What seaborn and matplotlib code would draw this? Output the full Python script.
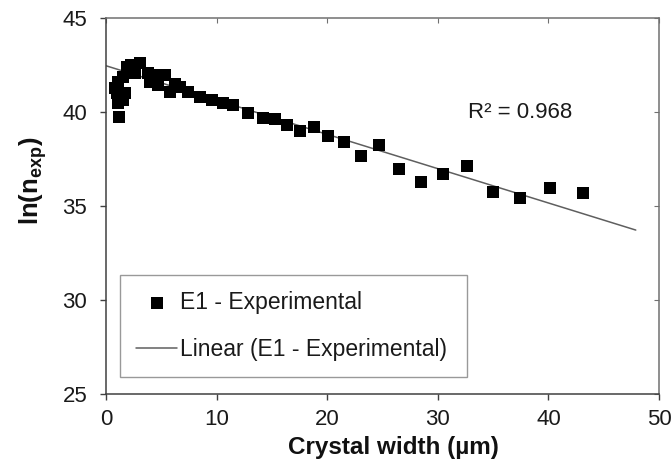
import numpy as np
import pandas as pd
import matplotlib
matplotlib.use("Agg")
import matplotlib.pyplot as plt
import seaborn as sns

# ---- data ----
crystal_width = [0.8, 0.97, 1.1, 1.1, 1.2, 1.57, 1.57, 1.7, 1.1, 1.9, 2.3, 2.6, 3.07,
                 3.8, 4.0, 4.6, 4.7, 5.3, 5.8, 6.2, 6.7, 7.45, 8.5, 9.55, 10.6, 11.5,
                 12.87, 14.22, 15.28, 16.34, 17.54, 18.8, 20.1, 21.52, 23.06, 24.68,
                 26.52, 28.44, 30.43, 32.67, 35.0, 37.43, 40.14, 43.1]
ln_n_exp = [41.26, 41.0, 40.46, 41.61, 39.72, 41.88, 40.64, 41.0, 40.5, 42.41, 42.5, 42.06, 42.59,
            42.06, 41.6, 41.97, 41.44, 41.97, 41.08, 41.5, 41.35, 41.08, 40.78, 40.64, 40.46, 40.37,
            39.96, 39.66, 39.61, 39.31, 39.0, 39.18, 38.74, 38.42, 37.68, 38.24,
            36.97, 36.26, 36.7, 37.14, 35.74, 35.43, 35.96, 35.69]

trend_x = [0.0, 47.9]
trend_y = [42.46, 33.72]

r2_label = "R² = 0.968"
x_ticks = [0, 10, 20, 30, 40, 50]
y_ticks = [25, 30, 35, 40, 45]

sns.set_style("ticks")
plt.rcParams["font.family"] = ["Liberation Sans", "DejaVu Sans"]
plt.rcParams["mathtext.fontset"] = "custom"
plt.rcParams["mathtext.rm"] = "Liberation Sans"
plt.rcParams["mathtext.bf"] = "Liberation Sans:bold"
plt.rcParams["mathtext.it"] = "Liberation Sans:italic"

fig = plt.figure(figsize=(6.72, 4.75), dpi=100)
ax = fig.add_axes([106 / 672, 1 - 394 / 475, (659 - 106) / 672, (394 - 18) / 475])

df = pd.DataFrame({"x": crystal_width, "y": ln_n_exp})
sns.scatterplot(data=df, x="x", y="y", marker="s", color="black", s=80,
                edgecolor="black", linewidth=0, label="E1 - Experimental", ax=ax, zorder=3)
tdf = pd.DataFrame({"x": trend_x, "y": trend_y})
sns.lineplot(data=tdf, x="x", y="y", color="#5f5f5f", linewidth=1.1,
             label="Linear (E1 - Experimental)", ax=ax, zorder=2)

ax.set_xlim(0, 50)
ax.set_ylim(25, 45)
ax.set_xticks(x_ticks)
ax.set_yticks(y_ticks)
ax.tick_params(axis="both", which="major", labelsize=16, direction="out",
               length=4.5, width=1, color="#404040", labelcolor="#1a1a1a")
ax.tick_params(axis="y", pad=9)
ax.tick_params(axis="x", pad=6)

for s in ["left", "bottom"]:
    ax.spines[s].set_color("#404040")
    ax.spines[s].set_linewidth(1.1)
for s in ["top", "right"]:
    ax.spines[s].set_visible(True)
    ax.spines[s].set_color("#707070")
    ax.spines[s].set_linewidth(1.1)
sec_x = ax.secondary_xaxis("top")
sec_x.set_xticks(x_ticks)
sec_x.tick_params(direction="in", length=3.6, color="#707070", labeltop=False)
sec_x.spines["top"].set_visible(False)
sec_y = ax.secondary_yaxis("right")
sec_y.set_yticks(y_ticks)
sec_y.tick_params(direction="in", length=3.6, color="#707070", labelright=False)
sec_y.spines["right"].set_visible(False)

ax.set_xlabel("Crystal width (µm)", fontsize=17.5, fontweight="bold", color="#111111")
ax.xaxis.set_label_coords(0.52, -0.112)
ax.set_ylabel(r"$\mathbf{ln(n_{exp})}$", fontsize=18.5, color="#111111")
ax.yaxis.set_label_coords(-0.103, 0.566)

ax.text(42.2, 40.0, r2_label, fontsize=16, va="center", ha="right", color="#1a1a1a")

leg = ax.legend(loc="upper left", bbox_to_anchor=(0.0253, 0.0585, 0.628, 0.258),
                mode="expand", borderaxespad=0, fontsize=16.5, frameon=True,
                fancybox=False, edgecolor="#808080", handlelength=1.8,
                handletextpad=0.12, labelspacing=1.05, borderpad=0.7, markerscale=0.9)
leg.get_frame().set_linewidth(1.0)
for t in leg.get_texts():
    t.set_color("#1a1a1a")

fig.savefig("out.png", dpi=100)
